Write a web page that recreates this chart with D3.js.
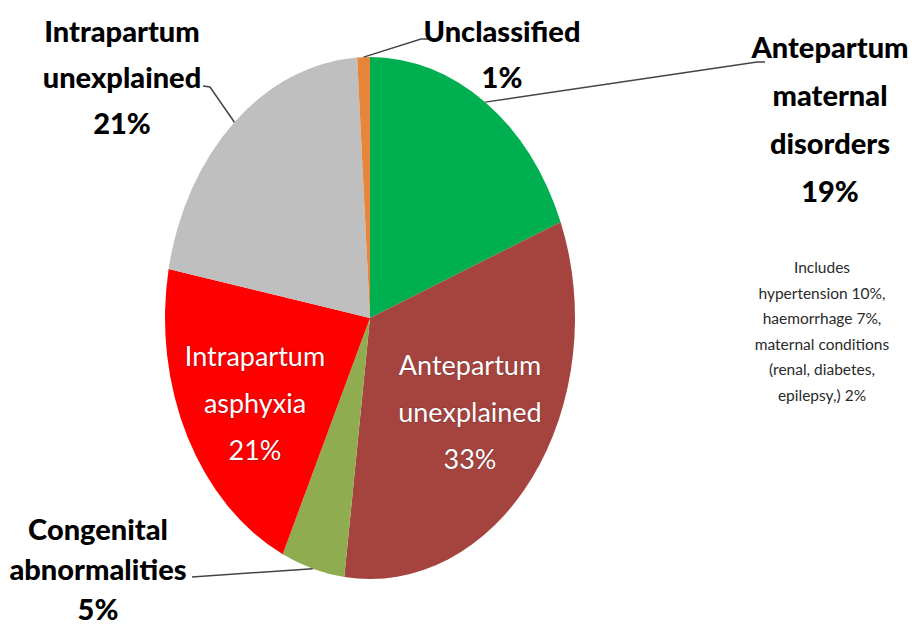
<!DOCTYPE html>
<meta charset="utf-8">
<style>
body { margin: 0; background: #fff; }
.lbl { font-family: Lato, "Liberation Sans", sans-serif; font-weight: 900; font-size: 29px; fill: #000; }
.inner { font-family: Lato, "Liberation Sans", sans-serif; font-weight: 400; font-size: 27px; fill: #fff;
  paint-order: stroke; stroke: rgba(60,20,20,0.35); stroke-width: 1.2px; }
.note { font-family: Lato, "Liberation Sans", sans-serif; font-size: 15.5px; fill: #2a2a2a; }
.leader { fill: none; stroke: #444; stroke-width: 1.5px; }
</style>
<body>
<script src="https://d3js.org/d3.v7.min.js"></script>
<script>

// the data
var categories = ["Antepartum maternal disorders", "Antepartum unexplained", "Congenital abnormalities",
                  "Intrapartum asphyxia", "Intrapartum unexplained", "Unclassified"];
var values = [19, 33, 5, 21, 21, 1];
var colours = ["#00b050", "#a5443f", "#8fad50", "#ff0000", "#bfbfbf", "#e6863a"];
var noteLines = ["Includes", "hypertension 10%,", "haemorrhage 7%,", "maternal conditions",
                 "(renal, diabetes,", "epilepsy,) 2%"];

// label layout (outside labels get a leader line, inner labels sit on the slice)
var labelLayout = [
  {i: 0, lines: ["Antepartum", "maternal", "disorders", "19%"], x: 830, y: 58, dy: 48, inner: false, end: [[765, 62], [757, 62]]},
  {i: 1, lines: ["Antepartum", "unexplained", "33%"], x: 470, y: 375, dy: 47, inner: true},
  {i: 2, lines: ["Congenital", "abnormalities", "5%"], x: 98, y: 540, dy: 40, inner: false, end: [[192, 577]]},
  {i: 3, lines: ["Intrapartum", "asphyxia", "21%"], x: 255, y: 366, dy: 47, inner: true},
  {i: 4, lines: ["Intrapartum", "unexplained", "21%"], x: 122, y: 42, dy: 46, inner: false, end: [[203, 86], [210, 87]]},
  {i: 5, lines: ["Unclassified", "1%"], x: 502, y: 42, dy: 46, inner: false, end: [[428, 39], [421, 39]]}
];

var width = 922, height = 626;
var cx = 370, cy = 318, rx = 205, ry = 261;

var svg = d3.select("body").append("svg")
    .attr("width", width)
    .attr("height", height);

var pie = d3.pie().sort(null).value(function(d) { return d; });
var arcs = pie(values);
var arc = d3.arc().innerRadius(0).outerRadius(rx);

// pie is drawn round and squashed into the ellipse of the original
var g = svg.append("g")
    .attr("transform", "translate(" + cx + "," + cy + ") scale(1," + (ry / rx) + ")");

g.selectAll("path.slice")
    .data(arcs)
  .enter().append("path")
    .attr("class", "slice")
    .attr("d", arc)
    .attr("fill", function(d, i) { return colours[i]; });

// point on the ellipse edge at the middle of a slice
function edgePoint(a) {
  var t = (a.startAngle + a.endAngle) / 2;
  return [cx + rx * Math.sin(t), cy - ry * Math.cos(t)];
}

labelLayout.forEach(function(l) {
  if (!l.inner) {
    var pts = [edgePoint(arcs[l.i])].concat(l.end.slice().reverse());
    pts.reverse();
    svg.append("path")
        .attr("class", "leader")
        .attr("d", d3.line()(pts));
  }
  var t = svg.append("text")
      .attr("class", l.inner ? "inner" : "lbl")
      .attr("text-anchor", "middle");
  l.lines.forEach(function(s, k) {
    t.append("tspan")
        .attr("x", l.x)
        .attr("y", l.y + k * l.dy)
        .text(s);
  });
});

// note under the maternal disorders label
var note = svg.append("text")
    .attr("class", "note")
    .attr("text-anchor", "middle");
noteLines.forEach(function(s, k) {
  note.append("tspan")
      .attr("x", 822)
      .attr("y", 273 + k * 25.5)
      .text(s);
});

</script>
</body>
